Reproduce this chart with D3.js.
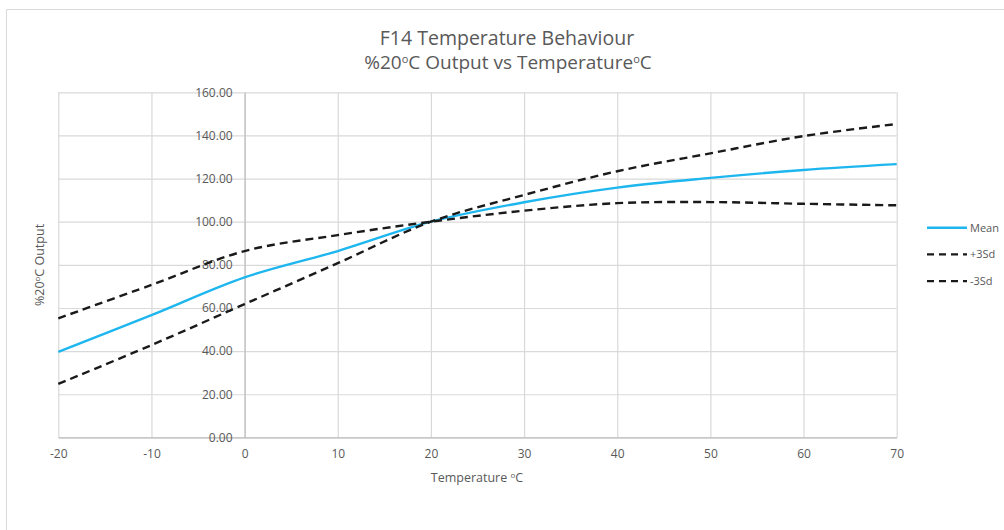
<!DOCTYPE html>
<html>
<head>
<meta charset="utf-8">
<script src="https://cdn.jsdelivr.net/npm/d3@7"></script>
<style>
  body { margin: 0; background: #fff; }
  svg { display: block; font-family: "Open Sans", sans-serif; }
</style>
</head>
<body>
<div id="chart"></div>
<script>
// values
const temperatures = [-20, -10, 0, 10, 20, 30, 40, 50, 60, 70];
const meanValues = [39.7, 56.7, 74.2, 86.4, 100.0, 109.0, 115.8, 120.3, 124.0, 126.7];
const plus3SdValues = [55.2, 70.7, 86.4, 93.8, 100.0, 105.1, 108.6, 109.1, 108.3, 107.6];
const minus3SdValues = [24.8, 42.8, 61.8, 80.8, 100.0, 112.4, 123.4, 131.7, 139.7, 145.3];
const xTicks = [-20, -10, 0, 10, 20, 30, 40, 50, 60, 70];
const yTicks = [0, 20, 40, 60, 80, 100, 120, 140, 160];
const seriesNames = ["Mean", "+3Sd", "-3Sd"];

const width = 1004;
const height = 530;
const margin = { top: 92.3, right: 107.3, bottom: 92.6, left: 58.3 };

const gray = "#595959";
const blue = "#1eb6ee";

const svg = d3.select("#chart")
  .append("svg")
  .attr("width", width)
  .attr("height", height);

// chart area border (continues past the window)
svg.append("path")
  .attr("d", `M6.5,${height} V9.5 H${width}`)
  .attr("fill", "none")
  .attr("stroke", "#d9d9d9")
  .attr("stroke-width", 1);

const x = d3.scaleLinear()
  .domain([-20, 70])
  .range([margin.left, width - margin.right]);

const y = d3.scaleLinear()
  .domain([0, 160])
  .range([height - margin.bottom, margin.top]);

// gridlines
const grid = svg.append("g");

grid.append("g")
  .call(d3.axisBottom(x).tickValues(xTicks).tickSize(-(y(0) - y(160))).tickFormat(""))
  .attr("transform", `translate(0,${y(0)})`)
  .call(g => g.select(".domain").remove())
  .call(g => g.selectAll("line").attr("stroke", "#d9d9d9").attr("stroke-width", 1.2));

grid.append("g")
  .call(d3.axisLeft(y).tickValues(yTicks).tickSize(-(x(70) - x(-20))).tickFormat(""))
  .attr("transform", `translate(${x(-20)},0)`)
  .call(g => g.select(".domain").remove())
  .call(g => g.selectAll("line").attr("stroke", "#d9d9d9").attr("stroke-width", 1.2));

// x axis along y = 0 (plain hyphen for negatives, like the original)
const xAxis = svg.append("g")
  .attr("transform", `translate(0,${y(0)})`)
  .call(d3.axisBottom(x).tickValues(xTicks).tickSize(0).tickPadding(12).tickFormat(d => String(d)));

xAxis.select(".domain").attr("stroke", "#bfbfbf").attr("stroke-width", 1.2);
xAxis.selectAll(".tick text")
  .attr("fill", gray)
  .style("font-size", "12px")
  .style("font-family", "Open Sans, sans-serif");

// y axis sits at x = 0, labels to its left
const yAxis = svg.append("g")
  .attr("transform", `translate(${x(0)},0)`)
  .call(d3.axisLeft(y).tickValues(yTicks).tickSize(0).tickPadding(12).tickFormat(d3.format(".2f")));

yAxis.select(".domain").attr("stroke", "#bfbfbf").attr("stroke-width", 1.2);
yAxis.selectAll(".tick text")
  .attr("fill", gray)
  .style("font-size", "12px")
  .style("font-family", "Open Sans, sans-serif");

// lines
const seriesData = [
  { name: seriesNames[0], values: meanValues, color: blue, dash: null, widthPx: 2.4 },
  { name: seriesNames[1], values: plus3SdValues, color: "#1a1a1a", dash: "8 5", widthPx: 2.4 },
  { name: seriesNames[2], values: minus3SdValues, color: "#1a1a1a", dash: "8 5", widthPx: 2.4 }
];

const line = d3.line()
  .x((d, i) => x(temperatures[i]))
  .y(d => y(d))
  .curve(d3.curveCatmullRom.alpha(0.5));

svg.append("g")
  .selectAll("path")
  .data(seriesData)
  .join("path")
  .attr("fill", "none")
  .attr("stroke", d => d.color)
  .attr("stroke-width", d => d.widthPx)
  .attr("stroke-dasharray", d => d.dash)
  .attr("d", d => line(d.values));

// legend
const legend = svg.append("g")
  .attr("transform", "translate(927,227.7)")
  .selectAll("g")
  .data(seriesData)
  .join("g")
  .attr("transform", (d, i) => `translate(0,${i * 26.7})`);

legend.append("line")
  .attr("x1", 0)
  .attr("x2", 40)
  .attr("stroke", d => d.color)
  .attr("stroke-width", 2.4)
  .attr("stroke-dasharray", d => d.dash ? "7 5" : null);

legend.append("text")
  .attr("x", 43)
  .attr("dy", "0.35em")
  .attr("fill", gray)
  .style("font-size", "11px")
  .text(d => d.name);

// titles
const title = svg.append("text")
  .attr("x", 507)
  .attr("text-anchor", "middle")
  .attr("fill", gray)
  .style("font-size", "19px");

title.append("tspan").attr("x", 507).attr("y", 45).style("font-size", "19.5px").text("F14 Temperature Behaviour");

const sub = title.append("tspan").attr("x", 508).attr("y", 69);
sub.append("tspan").text("%20");
sub.append("tspan").attr("dy", -6).style("font-size", "11px").text("o");
sub.append("tspan").attr("dy", 6).text("C Output vs Temperature");
sub.append("tspan").attr("dy", -6).style("font-size", "11px").text("o");
sub.append("tspan").attr("dy", 6).text("C");

const xTitle = svg.append("text")
  .attr("x", 477)
  .attr("y", 482)
  .attr("text-anchor", "middle")
  .attr("fill", gray)
  .style("font-size", "12.5px");
xTitle.append("tspan").text("Temperature ");
xTitle.append("tspan").attr("dy", -4).style("font-size", "8px").text("o");
xTitle.append("tspan").attr("dy", 4).text("C");

const yTitle = svg.append("text")
  .attr("transform", "translate(44,265) rotate(-90)")
  .attr("text-anchor", "middle")
  .attr("fill", gray)
  .style("font-size", "12.5px");
yTitle.append("tspan").text("%20");
yTitle.append("tspan").attr("dy", -4).style("font-size", "8px").text("o");
yTitle.append("tspan").attr("dy", 4).text("C Output");
</script>
</body>
</html>
